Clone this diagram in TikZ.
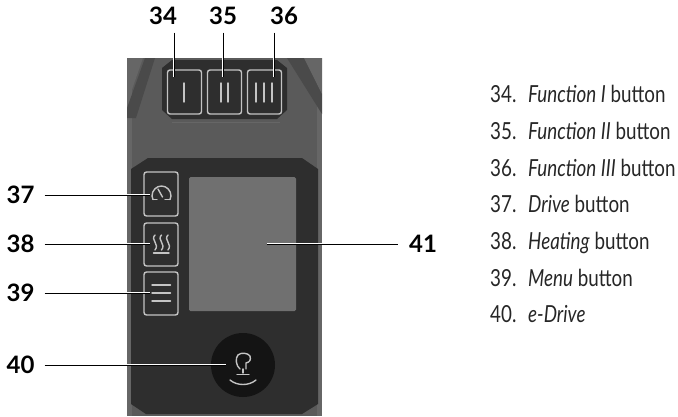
\documentclass[tikz,border=0pt]{standalone}
\usepackage{fontspec}
\setmainfont[FakeStretch=0.8]{Lato}
\newfontfamily\calloutfont{Lato}
\definecolor{bodygray}{HTML}{5A5A5A}
\definecolor{edgegray}{HTML}{666666}
\definecolor{bandgray}{HTML}{4A4A4A}
\definecolor{panelgray}{HTML}{2E2E2E}
\definecolor{screengray}{HTML}{707070}
\definecolor{framegray}{HTML}{C4C4C4}
\begin{document}
\begin{tikzpicture}[
  x=1pt,y=1pt,
  softkey/.style={
    draw=framegray,
    fill=panelgray,
    line width=1.4pt,
    rounded corners=2.5pt,
    inner sep=0pt,
    minimum width=34pt,
    minimum height=44pt
  },
  glyph/.style={
    draw=framegray,
    line width=1.4pt,
    line cap=round
  },
  callout/.style={
    font=\calloutfont\bfseries\fontsize{24}{26}\selectfont,
    inner sep=0pt,
    text height=17pt,
    text depth=0pt
  },
  leader/.style={
    draw=black,
    line width=0.9pt,
    preaction={draw=white,line width=2.2pt}
  },
  legend/.style={
    anchor=base west,
    inner sep=0pt,
    text=black!85,
    font=\fontsize{23.5}{27}\selectfont
  }
]
\useasboundingbox (0,0) rectangle (678,-416);

% housing
\fill[edgegray] (127,-58) rectangle (322,-416);
\fill[bodygray] (132,-58) rectangle (317,-416);
\fill[bandgray] (145,-58) -- (155,-58) -- (136,-118) -- (127,-118) -- (127,-108) -- cycle;
\fill[edgegray] (127,-58) -- (143,-58) -- (127,-104) -- cycle;
\fill[bandgray] (287,-58) -- (304,-58) -- (322,-94) -- (322,-114) -- cycle;
\fill[edgegray] (304,-58) -- (322,-58) -- (322,-94) -- cycle;

% recess for the top keys
\fill[panelgray] (172,-60) -- (277,-60) -- (287,-68) -- (287,-110) -- (277,-119) -- (172,-119) -- (162,-110) -- (162,-68) -- cycle;
\draw[edgegray,line width=0.8pt] (172,-122) -- (280,-122);

% main panel
\fill[panelgray] (148,-158) -- (302,-158) -- (318,-169) -- (318,-404) -- (302,-414) -- (146,-414) -- (131,-404) -- (131,-169) -- cycle;
\node[fill=screengray,rounded corners=1.5pt,inner sep=0pt,minimum width=107pt,minimum height=134pt] at (242.5,-244) (screen) {};

% keys
\node[softkey] at (184.5,-92) (keyone) {};
\node[softkey] at (224.5,-92) (keytwo) {};
\node[softkey] at (264.5,-92) (keythree) {};
\node[softkey] at (161,-194) (keydrive) {};
\node[softkey,minimum height=43pt] at (161,-244.5) (keyheat) {};
\node[softkey,minimum height=43pt] at (161,-293.5) (keymenu) {};
\node[circle,fill=black!92,inner sep=0pt,minimum size=64pt] at (243,-365) (knob) {};

% key symbols
\draw[glyph] (184,-83) -- (184,-102);
\draw[glyph] (221,-83) -- (221,-102);
\draw[glyph] (228,-83) -- (228,-102);
\draw[glyph] (256,-83) -- (256,-102);
\draw[glyph] (264,-83) -- (264,-102);
\draw[glyph] (272,-83) -- (272,-102);

\draw[glyph] (153,-199.5) -- (152,-196) arc (180:0:9.5 and 10) -- (170,-199.5);
\draw[glyph] (153,-199.5) -- (157,-199.5);
\draw[glyph] (165,-199.5) -- (170,-199.5);
\draw[glyph] (158,-189) -- (162.5,-197);

\draw[glyph] (155,-235) .. controls (150,-240) and (160,-244) .. (155,-250);
\draw[glyph] (161.5,-235) .. controls (156.5,-240) and (166.5,-244) .. (161.5,-250);
\draw[glyph] (168,-235) .. controls (163,-240) and (173,-244) .. (168,-250);
\draw[glyph] (153.5,-253) -- (169,-253);

\draw[glyph] (152,-285) -- (170.5,-285);
\draw[glyph] (152,-293) -- (170.5,-293);
\draw[glyph] (152,-301) -- (170.5,-301);

\draw[glyph] (240,-369) .. controls (236,-366) and (235,-358) .. (238,-355) .. controls (241,-352) and (248,-353) .. (250,-356) .. controls (251,-360) and (250,-362) .. (246,-363) -- (246,-369);
\draw[glyph] (243,-369) -- (243,-373);
\draw[glyph] (237,-374.5) -- (249,-374.5);
\draw[glyph] (230,-380) .. controls (237,-386) and (249,-386) .. (256,-380);

% callouts
\node[callout] at (163,-16) (lab34) {34};
\node[callout] at (223,-16) (lab35) {35};
\node[callout] at (284,-16) (lab36) {36};
\node[callout] at (20.5,-195) (lab37) {37};
\node[callout] at (20.5,-244) (lab38) {38};
\node[callout] at (20.5,-293) (lab39) {39};
\node[callout] at (20.5,-365) (lab40) {40};
\node[callout] at (423,-244) (lab41) {41};

\coordinate (tip34) at (174,-77);
\coordinate (tip35) at (223,-77);
\coordinate (tip36) at (274,-77);
\coordinate (tip37) at (150,-195);
\coordinate (tip38) at (150,-244);
\coordinate (tip39) at (150,-293);
\coordinate (tip40) at (226,-365);
\coordinate (tip41) at (267,-244);

\draw[leader] ([yshift=-8pt]lab34.south -| tip34) -- (tip34);
\draw[leader] ([yshift=-8pt]lab35.south -| tip35) -- (tip35);
\draw[leader] ([yshift=-8pt]lab36.south -| tip36) -- (tip36);
\draw[leader] ([xshift=10pt]lab37.east) -- (tip37);
\draw[leader] ([xshift=10pt]lab38.east) -- (tip38);
\draw[leader] ([xshift=10pt]lab39.east) -- (tip39);
\draw[leader] ([xshift=10pt]lab40.east) -- (tip40);
\draw[leader] ([xshift=-11pt]lab41.west) -- (tip41);

% legend
\node[legend] at (490,-102) (item34) {\makebox[38pt][l]{34.}\textit{Function I} button};
\node[legend] at (490,-139) (item35) {\makebox[38pt][l]{35.}\textit{Function II} button};
\node[legend] at (490,-176) (item36) {\makebox[38pt][l]{36.}\textit{Function III} button};
\node[legend] at (490,-212) (item37) {\makebox[38pt][l]{37.}\textit{Drive} button};
\node[legend] at (490,-249) (item38) {\makebox[38pt][l]{38.}\textit{Heating} button};
\node[legend] at (490,-286) (item39) {\makebox[38pt][l]{39.}\textit{Menu} button};
\node[legend] at (490,-322) (item40) {\makebox[38pt][l]{40.}\textit{e-Drive}};
\end{tikzpicture}
\end{document}
